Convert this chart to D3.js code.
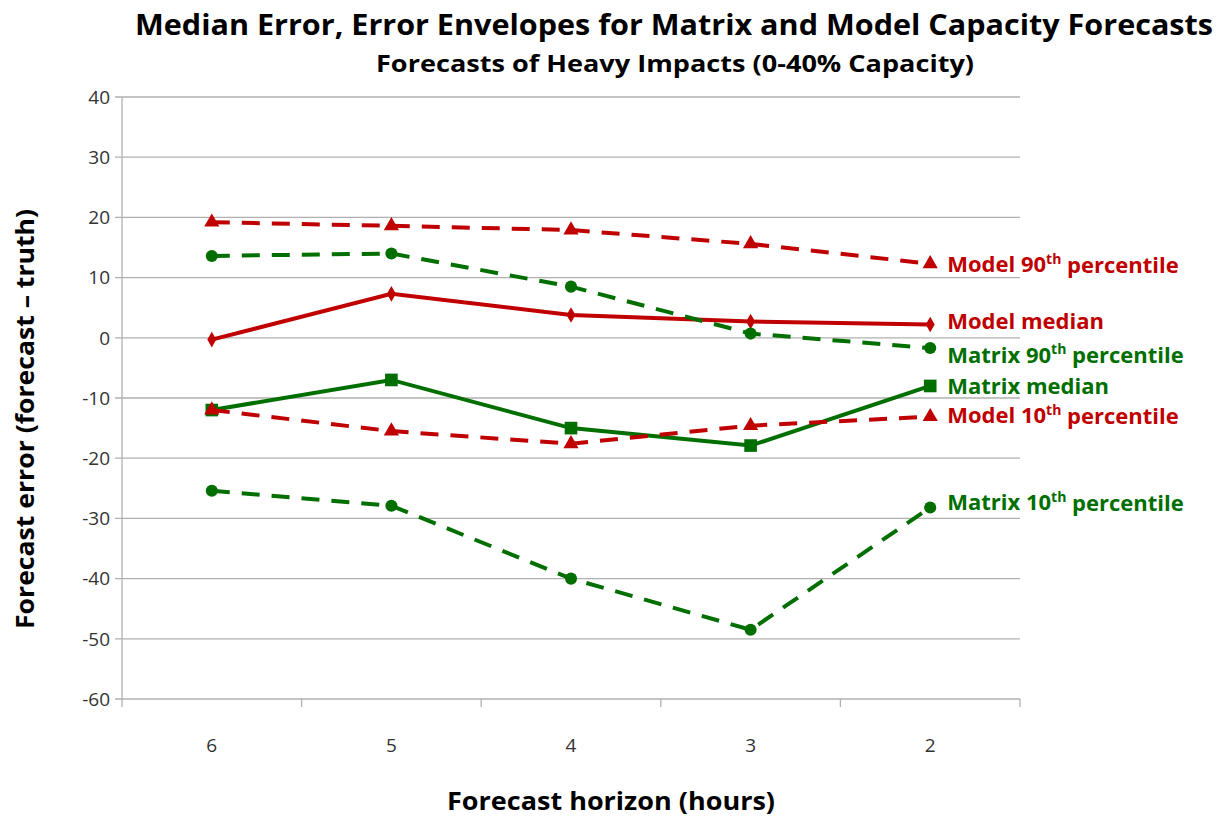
<!DOCTYPE html>
<html>
<head>
<meta charset="utf-8">
<script src="https://cdn.jsdelivr.net/npm/d3@7"></script>
<style>
  body { margin: 0; background: #fff; }
  text { font-family: "Open Sans", "Liberation Sans", sans-serif; }
</style>
</head>
<body>
<svg id="chart" width="1229" height="818"></svg>
<script>
// forecast horizons (hours), left to right
var horizons = ["6", "5", "4", "3", "2"];
var yTicks = [40, 30, 20, 10, 0, -10, -20, -30, -40, -50, -60];

var model90 = [19.2, 18.6, 17.9, 15.6, 12.3];
var modelMedian = [-0.3, 7.3, 3.8, 2.7, 2.2];
var matrix90 = [13.6, 14.0, 8.5, 0.7, -1.7];
var matrixMedian = [-12.0, -7.0, -15.0, -17.9, -8.0];
var model10 = [-12.0, -15.5, -17.6, -14.6, -13.1];
var matrix10 = [-25.4, -27.9, -40.0, -48.5, -28.2];

var red = "#c00000", green = "#006f00";

var series = [
  {name: "Model", pct: "90", values: model90, color: red, dash: true, marker: "triangle", dy: 1},
  {name: "Model", pct: null, values: modelMedian, color: red, dash: false, marker: "diamond", dy: -3},
  {name: "Matrix", pct: "90", values: matrix90, color: green, dash: true, marker: "circle", dy: 7},
  {name: "Matrix", pct: null, values: matrixMedian, color: green, dash: false, marker: "square", dy: 0},
  {name: "Model", pct: "10", values: model10, color: red, dash: true, marker: "triangle", dy: -1},
  {name: "Matrix", pct: "10", values: matrix10, color: green, dash: true, marker: "circle", dy: -5}
];

var svg = d3.select("#chart");
var margin = {left: 122, right: 209, top: 97, bottom: 119};
var width = 1229 - margin.left - margin.right;
var height = 818 - margin.top - margin.bottom;

var x = d3.scaleBand().domain(horizons).range([0, width]);
var y = d3.scaleLinear().domain([-60, 40]).range([height, 0]);

var g = svg.append("g").attr("transform", "translate(" + margin.left + "," + margin.top + ")");

// gridlines
g.selectAll(".grid").data(yTicks).enter().append("line")
  .attr("x1", -7).attr("x2", width)
  .attr("y1", d => y(d)).attr("y2", d => y(d))
  .attr("stroke", "#b0b0b0").attr("stroke-width", 1.3);

// y axis line
g.append("line").attr("x1", 0).attr("x2", 0).attr("y1", 0).attr("y2", height + 8)
  .attr("stroke", "#b0b0b0").attr("stroke-width", 1.3);

// x tick marks at category boundaries
var bounds = horizons.map(h => x(h)).concat([width]).slice(1);
g.selectAll(".xt").data(bounds).enter().append("line")
  .attr("x1", d => d).attr("x2", d => d)
  .attr("y1", height).attr("y2", height + 8)
  .attr("stroke", "#b0b0b0").attr("stroke-width", 1.3);

// y tick labels
g.selectAll(".yl").data(yTicks).enter().append("text")
  .attr("x", -12).attr("y", d => y(d)).attr("dy", "0.36em")
  .attr("text-anchor", "end").attr("font-size", 19).attr("fill", "#333")
  .text(d => d);

// x tick labels
g.selectAll(".xl").data(horizons).enter().append("text")
  .attr("x", d => x(d) + x.bandwidth() / 2).attr("y", height + 53)
  .attr("text-anchor", "middle").attr("font-size", 19).attr("fill", "#333")
  .text(d => d);

var line = d3.line()
  .x((d, i) => x(horizons[i]) + x.bandwidth() / 2)
  .y(d => y(d));

series.forEach(function(s) {
  g.append("path").datum(s.values)
    .attr("d", line)
    .attr("fill", "none")
    .attr("stroke", s.color)
    .attr("stroke-width", 4)
    .attr("stroke-dasharray", s.dash ? "18,12" : null);

  var sym = {triangle: d3.symbolTriangle, diamond: d3.symbolDiamond, circle: d3.symbolCircle, square: d3.symbolSquare}[s.marker];
  var size = {triangle: 100, diamond: 70, circle: 115, square: 160}[s.marker];
  g.selectAll(null).data(s.values).enter().append("path")
    .attr("transform", (d, i) => "translate(" + (x(horizons[i]) + x.bandwidth() / 2) + "," + y(d) + ")")
    .attr("d", d3.symbol().type(sym).size(size))
    .attr("fill", s.color);

  // end label
  var last = s.values[s.values.length - 1];
  var t = g.append("text")
    .attr("x", x(horizons[horizons.length - 1]) + x.bandwidth() / 2 + 17)
    .attr("y", y(last) + s.dy).attr("dy", "0.35em")
    .attr("font-size", 22).attr("font-weight", "bold").attr("fill", s.color);
  if (s.pct) {
    t.append("tspan").text(s.name + " " + s.pct);
    t.append("tspan").attr("font-size", 14).attr("dy", "-0.6em").text("th");
    t.append("tspan").attr("dy", "0.4em").text(" percentile");
  } else {
    t.text(s.name + " median");
  }
});

// titles
svg.append("text").attr("x", 674).attr("y", 35).attr("text-anchor", "middle")
  .attr("font-size", 29).attr("font-weight", "bold").attr("fill", "#000")
  .attr("textLength", 1078).attr("lengthAdjust", "spacingAndGlyphs")
  .text("Median Error, Error Envelopes for Matrix and Model Capacity Forecasts");
svg.append("text").attr("x", 675).attr("y", 72).attr("text-anchor", "middle")
  .attr("font-size", 23).attr("font-weight", "bold").attr("fill", "#000")
  .attr("textLength", 598).attr("lengthAdjust", "spacingAndGlyphs")
  .text("Forecasts of Heavy Impacts (0-40% Capacity)");

// axis titles
svg.append("text").attr("transform", "translate(34,419) rotate(-90)")
  .attr("text-anchor", "middle").attr("font-size", 25).attr("font-weight", "bold")
  .attr("textLength", 420).attr("lengthAdjust", "spacingAndGlyphs")
  .text("Forecast error (forecast \u2013 truth)");
svg.append("text").attr("x", 611).attr("y", 810).attr("text-anchor", "middle")
  .attr("font-size", 25).attr("font-weight", "bold")
  .attr("textLength", 328).attr("lengthAdjust", "spacingAndGlyphs")
  .text("Forecast horizon (hours)");
</script>
</body>
</html>
